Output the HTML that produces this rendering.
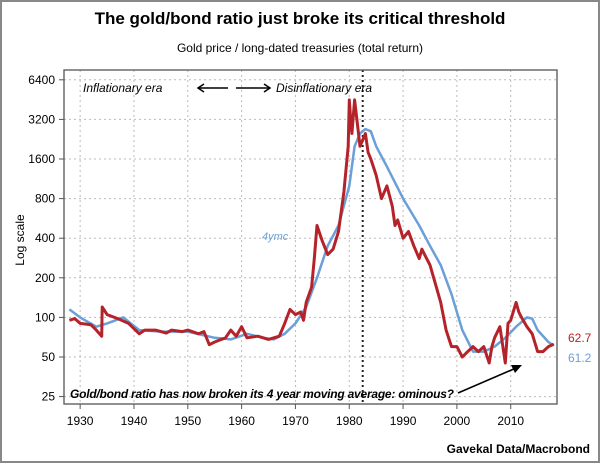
<!DOCTYPE html>
<html><head><meta charset="utf-8"><style>
body{margin:0;background:#fff}
svg{display:block;font-family:"Liberation Sans",sans-serif}
</style></head><body>
<svg width="600" height="463" viewBox="0 0 600 463">
<rect x="1" y="1" width="598" height="461" fill="#fff" stroke="#888" stroke-width="2"/>
<text x="300" y="24" text-anchor="middle" font-size="17" font-weight="bold">The gold/bond ratio just broke its critical threshold</text>
<text x="300" y="52" text-anchor="middle" font-size="12">Gold price / long-dated treasuries (total return)</text>
<text transform="translate(24,240) rotate(-90)" text-anchor="middle" font-size="12">Log scale</text>
<g id="grid"></g>
<g id="axes"></g>
<g id="series"></g>
<rect x="64" y="70" width="493" height="334" fill="none" stroke="#555" stroke-width="1.3"/>
<text x="83" y="92" font-size="12" font-style="italic">Inflationary era</text>
<text x="276" y="92" font-size="12" font-style="italic">Disinflationary era</text>
<g stroke="#000" stroke-width="1.5" fill="none">
<line x1="198" y1="88" x2="228" y2="88"/><path d="M204,84 L198,88 L204,92"/>
<line x1="236" y1="88" x2="270" y2="88"/><path d="M264,84 L270,88 L264,92"/>
</g>
<text x="262" y="240" font-size="11" font-style="italic" fill="#6a9fd8">4ymc</text>
<text x="70" y="398" font-size="12" font-style="italic" font-weight="bold" textLength="384">Gold/bond ratio has now broken its 4 year moving average: ominous?</text>
<g>
<line x1="458" y1="393" x2="516" y2="368" stroke="#000" stroke-width="1.6"/>
<path d="M522,365 L511,365 L515,373 Z" fill="#000"/>
</g>
<text x="568" y="342" font-size="12" fill="#b5232a">62.7</text>
<text x="568" y="362" font-size="12" fill="#6a9fd8">61.2</text>
<text x="590" y="453" text-anchor="end" font-size="12" font-weight="bold">Gavekal Data/Macrobond</text>
</svg>
<script>
const yTicks=[25,50,100,200,400,800,1600,3200,6400];
const xTicks=[1930,1940,1950,1960,1970,1980,1990,2000,2010];
const ratioYears=[1928,1929,1930,1932,1933,1934,1934.1,1935,1937,1939,1941,1942,1944,1946,1947,1949,1950,1952,1953,1954,1955,1957,1958,1959,1960,1961,1963,1965,1966,1967,1968,1969,1970,1971,1971.5,1972,1973,1973.5,1974,1975,1976,1977,1978,1979,1979.8,1980,1980.3,1980.5,1981,1981.5,1982,1983,1983.5,1984,1985,1986,1987,1988,1988.5,1989,1990,1991,1992,1993,1993.5,1994,1995,1996,1997,1998,1999,2000,2001,2002,2003,2004,2005,2006,2006.5,2007,2008,2009,2009.5,2010,2011,2011.5,2012,2013,2014,2015,2016,2017,2018];
const ratioValues=[95,98,90,88,80,72,120,105,98,90,75,80,80,76,80,78,80,75,78,62,65,70,80,72,85,70,72,68,70,72,90,115,105,110,95,130,170,280,500,380,300,330,450,900,2000,4500,3000,2500,4500,3000,2000,2500,1800,1600,1200,800,1000,700,500,550,400,450,350,280,330,300,250,180,130,80,60,60,50,55,60,55,60,45,60,70,85,45,90,95,130,110,100,85,75,55,55,60,62.7];
const avgYears=[1928,1930,1933,1935,1938,1941,1945,1950,1955,1958,1961,1964,1966,1968,1970,1972,1974,1976,1978,1980,1981,1982,1983,1984,1985,1987,1990,1993,1995,1997,1999,2001,2003,2005,2007,2009,2011,2013,2014,2015,2017,2018];
const avgValues=[115,100,85,90,100,80,78,78,70,68,75,70,68,75,90,120,200,350,500,1000,2000,2500,2700,2600,2000,1400,800,500,350,250,150,80,55,55,60,70,85,100,98,80,65,61.2];
const X0=64,X1=557,Y0=70,Y1=404,YR0=1927,YR1=2018.6;
const xs=y=>X0+(y-YR0)/(YR1-YR0)*(X1-X0);
const ys=v=>357-Math.log2(v/50)*39.6;
const NS="http://www.w3.org/2000/svg";
function mk(t,a,p){const e=document.createElementNS(NS,t);for(const k in a)e.setAttribute(k,a[k]);p.appendChild(e);return e;}
const grid=document.getElementById('grid'),axes=document.getElementById('axes'),ser=document.getElementById('series');
yTicks.forEach(v=>{const y=ys(v);
const g=mk('line',{x1:X0,x2:X1,y1:y,y2:y,stroke:'#bbb','stroke-dasharray':'2,3'},grid);


const t=mk('text',{x:X0-9,y:y+4,'text-anchor':'end','font-size':12},axes);t.textContent=v;


mk('line',{x1:X0-5,x2:X0,y1:y,y2:y,stroke:'#555'},axes);});
xTicks.forEach(v=>{const x=xs(v);
const g=mk('line',{x1:x,x2:x,y1:Y0,y2:Y1,stroke:'#bbb','stroke-dasharray':'2,3'},grid);


const t=mk('text',{x:x,y:425,'text-anchor':'middle','font-size':12},axes);t.textContent=v;


mk('line',{x1:x,x2:x,y1:Y1,y2:Y1+5,stroke:'#555'},axes);});
const d=mk('line',{x1:xs(1982.5),x2:xs(1982.5),y1:Y0,y2:Y1,stroke:'#222','stroke-width':2,'stroke-dasharray':'2,3'},grid);


const pa=(xa,va)=>xa.map((x,i)=>(i?'L':'M')+xs(x).toFixed(1)+','+ys(va[i]).toFixed(1)).join('');
const b=mk('path',{d:pa(avgYears,avgValues),fill:'none',stroke:'#6a9fd8','stroke-width':2.5,'stroke-linejoin':'round'},ser);


const r=mk('path',{d:pa(ratioYears,ratioValues),fill:'none',stroke:'#b5232a','stroke-width':3,'stroke-linejoin':'round'},ser);


</script>
</body></html>
